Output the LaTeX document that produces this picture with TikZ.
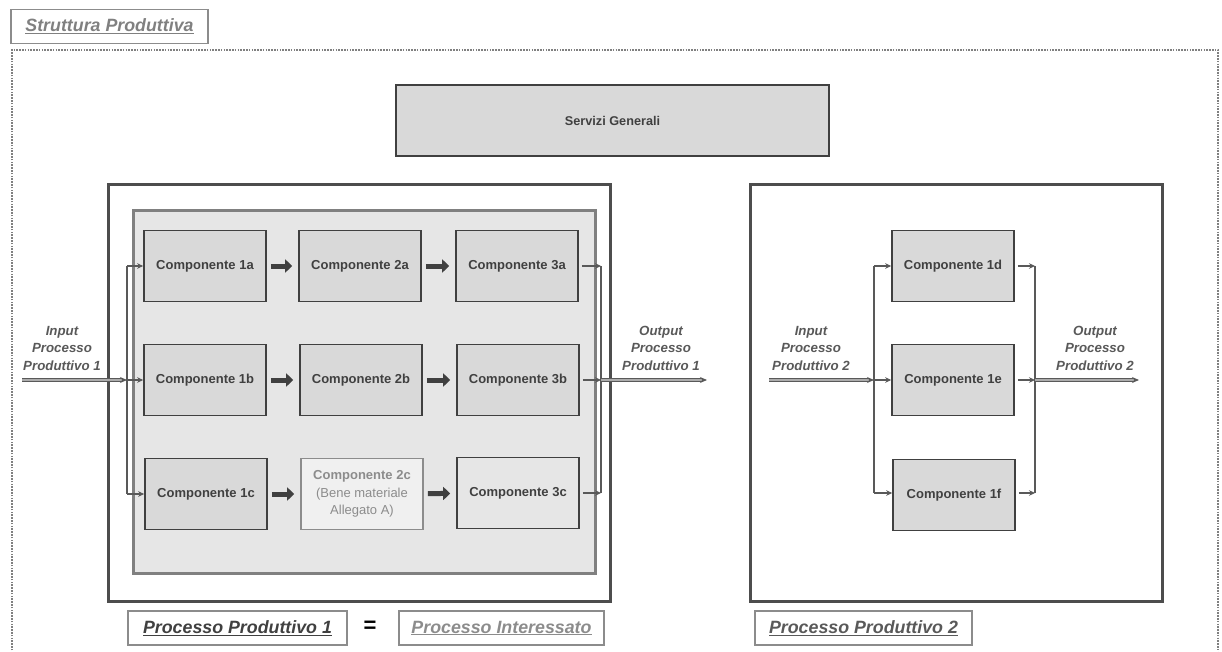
\documentclass[tikz,border=0pt]{standalone}
\usepackage{fontspec}
\setmainfont{Liberation Sans}
\usetikzlibrary{arrows.meta}
\definecolor{dk}{HTML}{404040}
\definecolor{frm}{HTML}{4D4D4D}
\definecolor{boxg}{HTML}{D9D9D9}
\definecolor{bgg}{HTML}{E6E6E6}
\definecolor{midg}{HTML}{808080}
\definecolor{ltg}{HTML}{8C8C8C}
\definecolor{arr}{HTML}{595959}
\newcommand\compfont{\fontsize{13}{17}\selectfont\bfseries}
\newcommand\lblfont{\fontsize{13.3}{17.5}\selectfont\bfseries\itshape}
\newcommand\tagfont{\fontsize{17.8}{20}\selectfont\bfseries\itshape}
\begin{document}
\begin{tikzpicture}[x=1pt,y=-1pt,
  comp/.style={draw=dk, line width=1.6pt, fill=boxg, minimum width=122pt, minimum height=71pt, inner sep=0pt, font=\compfont, text=dk, align=center},
  fat/.style={draw=dk, line width=5pt, -{Triangle[length=7pt,width=13pt]}, shorten <=4pt, shorten >=6pt},
  thinarr/.style={draw=arr, line width=1.5pt, -{Stealth[length=6pt,width=5.5pt]}},
  vline/.style={draw=arr, line width=1.5pt},
  dbl/.style={draw=arr, line width=1.4pt, double=white!50!arr, double distance=1.6pt, -{Stealth[length=7pt,width=6pt]}},
  lbl/.style={font=\lblfont, text=arr, align=center},
  tag/.style={draw=ltg, line width=1.5pt, minimum height=34pt, inner sep=0pt, font=\tagfont},
  frame/.style={draw=frm, line width=3pt, fill=white}
]
\useasboundingbox (0,0) rectangle (1222,652);

% dotted frame
\draw[draw=midg, line width=2.6pt, dash pattern=on 1.6pt off 1.2pt] (12,670) -- (12,50) -- (1218,50) -- (1218,670);

% title
\node[tag, minimum width=197pt, text=midg] (title) at (109.5,26.5) {\underline{Struttura Produttiva}};

% servizi generali
\node[comp, minimum width=433pt, line width=2pt, font=\fontsize{12.7}{15}\selectfont\bfseries] (serv) at (612.5,120.5) {Servizi Generali};

% process 1 frames
\node[frame, minimum width=502pt, minimum height=416pt, inner sep=0pt] (p1) at (359,393) {};
\node[draw=midg, line width=3pt, fill=bgg, minimum width=462pt, minimum height=362pt, inner sep=0pt] (p1in) at (364,392) {};

% process 2 frame
\node[frame, minimum width=412pt, minimum height=416pt, inner sep=0pt] (p2) at (956,393) {};

% components process 1
\node[comp] (c1a) at (205,266) {Componente 1a};
\node[comp] (c2a) at (360,266) {Componente 2a};
\node[comp] (c3a) at (517,266) {Componente 3a};
\node[comp] (c1b) at (205,380) {Componente 1b};
\node[comp] (c2b) at (361,380) {Componente 2b};
\node[comp] (c3b) at (518,380) {Componente 3b};
\node[comp] (c1c) at (206,494) {Componente 1c};
\node[comp, draw=ltg, fill=bgg!60!white, text=ltg, font=\fontsize{13}{17.5}\selectfont] (c2c) at (362,494) {\textbf{Componente 2c}\\(Bene materiale\\Allegato A)};
\node[comp, fill=bgg] (c3c) at (518,493) {Componente 3c};

\draw[fat] (c1a) -- (c2a);
\draw[fat] (c2a) -- (c3a);
\draw[fat] (c1b) -- (c2b);
\draw[fat] (c2b) -- (c3b);
\draw[fat] (c1c) -- (c2c);
\draw[fat] (c2c) -- (c3c);

% distribution process 1
\coordinate (dl1) at (127,266);
\coordinate (dl2) at (127,380);
\coordinate (dl3) at (127,494);
\coordinate (in1) at (22,380);
\draw[vline] (dl1) -- (dl3);
\draw[thinarr] (dl1) -- (c1a);
\draw[thinarr] (dl2) -- (c1b);
\draw[thinarr] (dl3) -- (c1c);
\draw[dbl] (in1) -- (dl2);

\coordinate (dr1) at (601,266);
\coordinate (dr2) at (601,380);
\coordinate (dr3) at (601,493);
\coordinate (out1) at (707,380);
\draw[vline] (dr1) -- (dr3);
\draw[thinarr, shorten <=3pt] (c3a) -- (dr1);
\draw[thinarr, shorten <=3pt] (c3b) -- (dr2);
\draw[thinarr, shorten <=3pt] (c3c) -- (dr3);
\draw[dbl] (dr2) -- (out1);

\node[lbl] (lin1) at (62,348) {Input\\Processo\\Produttivo 1};
\node[lbl] (lout1) at (661,348) {Output\\Processo\\Produttivo 1};

% components process 2
\node[comp] (c1d) at (953,266) {Componente 1d};
\node[comp] (c1e) at (953,380) {Componente 1e};
\node[comp] (c1f) at (954,495) {Componente 1f};

\coordinate (el1) at (874,266);
\coordinate (el2) at (874,380);
\coordinate (el3) at (874,493);
\coordinate (in2) at (769,380);
\draw[vline] (el1) -- (el3);
\draw[thinarr] (el1) -- (c1d);
\draw[thinarr] (el2) -- (c1e);
\draw[thinarr] (el3) -- (c1f.west |- el3);
\draw[dbl] (in2) -- (el2);

\coordinate (er1) at (1035,266);
\coordinate (er2) at (1035,380);
\coordinate (er3) at (1035,493);
\coordinate (out2) at (1139,380);
\draw[vline] (er1) -- (er3);
\draw[thinarr, shorten <=3pt] (c1d) -- (er1);
\draw[thinarr, shorten <=3pt] (c1e) -- (er2);
\draw[thinarr, shorten <=3pt] (c1f.east |- er3) -- (er3);
\draw[dbl] (er2) -- (out2);

\node[lbl] (lin2) at (811,348) {Input\\Processo\\Produttivo 2};
\node[lbl] (lout2) at (1095,348) {Output\\Processo\\Produttivo 2};

% bottom tags
\node[tag, minimum width=219pt, text=dk] (t1) at (237.5,628) {\underline{Processo Produttivo 1}};
\node[font=\fontsize{22}{22}\selectfont\bfseries, text=black] (eq) at (370,627) {=};
\node[tag, minimum width=205pt, text=ltg] (t2) at (501.5,628) {\underline{Processo Interessato}};
\node[tag, minimum width=217pt, text=arr] (t3) at (863.5,628) {\underline{Processo Produttivo 2}};
\end{tikzpicture}
\end{document}
